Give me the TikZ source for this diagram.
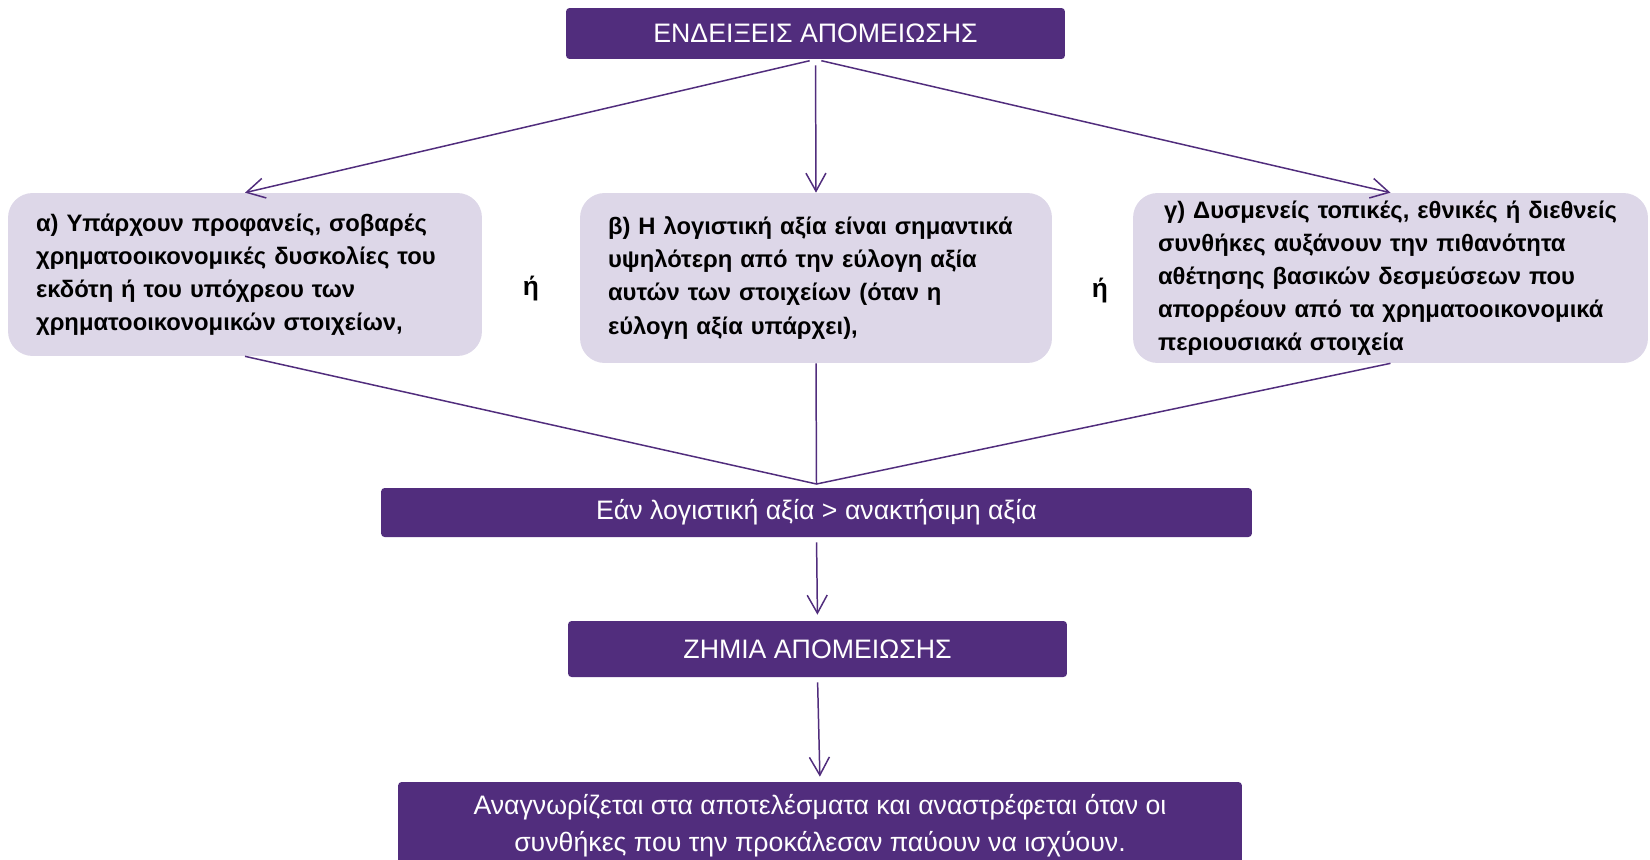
\documentclass[tikz,border=0pt]{standalone}
\usepackage{fontspec}
\setmainfont{Liberation Sans}
\usetikzlibrary{arrows.meta}

\definecolor{deeppurple}{RGB}{81,45,125}
\definecolor{lilac}{RGB}{221,215,232}

\tikzset{
	darkbox/.style={fill=deeppurple, text=white, rounded corners=2pt, inner sep=0pt,
		align=center, font=\fontsize{15.2}{21}\selectfont},
	lightbox/.style={fill=lilac, rounded corners=14pt, inner xsep=0.56cm, inner ysep=0pt,
		align=left, font=\bfseries\fontsize{13.55}{18.8}\selectfont},
	ortext/.style={font=\bfseries\fontsize{15}{16}\selectfont},
	arr/.style={draw=deeppurple, line width=0.85pt, -{Straight Barb[length=3.6mm,width=4mm]}},
	link/.style={draw=deeppurple, line width=0.85pt},
}

\begin{document}
\begin{tikzpicture}[x=0.02cm, y=-0.02cm]
			\useasboundingbox (0,0) rectangle (1650,859);
			
			% title
			\node[darkbox, minimum width=9.98cm, minimum height=1.02cm] (top) at (815.5,33.5) {ΕΝΔΕΙΞΕΙΣ ΑΠΟΜΕΙΩΣΗΣ};
			
			% the three indications
			\node[lightbox, text width=8.36cm, minimum height=3.26cm] (boxa) at (245,274.5)
				{α) Υπάρχουν προφανείς, σοβαρές\\ χρηματοοικονομικές δυσκολίες του\\ εκδότη ή του υπόχρεου των\\ χρηματοοικονομικών στοιχείων,};
			\node[lightbox, text width=8.32cm, minimum height=3.4cm] (boxb) at (816,278)
				{β) Η λογιστική αξία είναι σημαντικά\\ υψηλότερη από την εύλογη αξία\\ αυτών των στοιχείων (όταν η\\ εύλογη αξία υπάρχει),};
			\node[lightbox, inner xsep=0.5cm, text width=9.3cm, minimum height=3.4cm] (boxc) at (1390.5,278)
				{\hspace{0.12cm}γ) Δυσμενείς τοπικές, εθνικές ή διεθνείς\\ συνθήκες αυξάνουν την πιθανότητα\\ αθέτησης βασικών δεσμεύσεων που\\ απορρέουν από τα χρηματοοικονομικά\\ περιουσιακά στοιχεία};
			\node[ortext] (or1) at (531,289) {ή};
			\node[ortext] (or2) at (1100,291) {ή};
			
			% condition and result
			\node[darkbox, minimum width=17.42cm, minimum height=0.98cm] (cond) at (816.5,512.5) {Εάν λογιστική αξία > ανακτήσιμη αξία};
			\node[darkbox, minimum width=9.98cm, minimum height=1.12cm] (loss) at (817.5,649) {ΖΗΜΙΑ ΑΠΟΜΕΙΩΣΗΣ};
			\node[darkbox, minimum width=16.88cm, minimum height=2cm] (rec) at (820,832) {};
			\node[text=white, align=center, font=\fontsize{15.2}{21}\selectfont] (rectext) at (820,826)
				{Αναγνωρίζεται στα αποτελέσματα και αναστρέφεται όταν οι\\ συνθήκες που την προκάλεσαν παύουν να ισχύουν.};
			
			\coordinate (join) at (816.5,484);
			
			\draw[arr, shorten <=0.12cm] (top.south) -- (boxa.north);
			\draw[arr, shorten <=0.12cm] (top.south) -- (boxb.north);
			\draw[arr, shorten <=0.12cm] (top.south) -- (boxc.north);
			
			\draw[link] (boxa.south) -- (join) -- (boxc.south);
			\draw[link] (boxb.south) -- (join);
			
			\draw[arr, shorten <=0.1cm, shorten >=0.12cm] (cond.south) -- (loss.north);
			\draw[arr, shorten <=0.1cm, shorten >=0.1cm] (loss.south) -- (rec.north);
			
		\end{tikzpicture}
\end{document}
